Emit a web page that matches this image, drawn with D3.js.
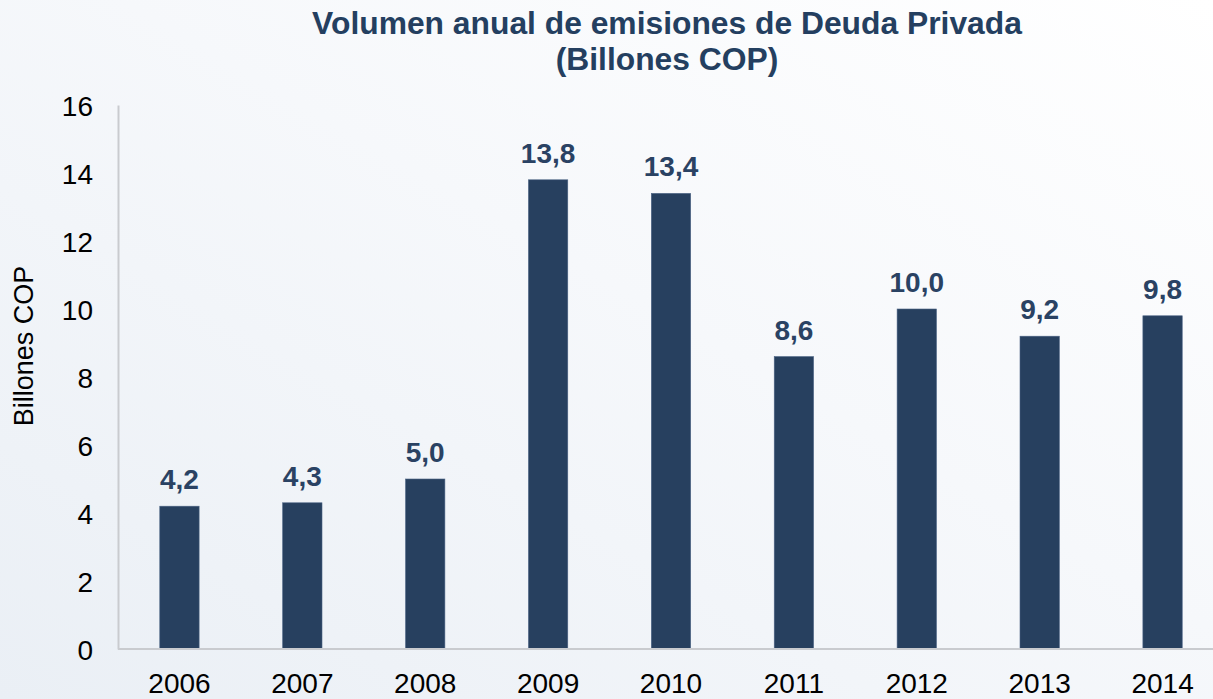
<!DOCTYPE html>
<html><head><meta charset="utf-8">
<script src="https://cdn.jsdelivr.net/npm/d3@7"></script>
<style>body{margin:0;overflow:hidden;background:#fff}svg{display:block}</style>
</head><body>
<script>
const years = ["2006","2007","2008","2009","2010","2011","2012","2013","2014"];
const values = [4.2,4.3,5.0,13.8,13.4,8.6,10.0,9.2,9.8];
const yTicks = [0,2,4,6,8,10,12,14,16];
const titleLines = ["Volumen anual de emisiones de Deuda Privada","(Billones COP)"];
const yLabel = "Billones COP";

const W=1213,H=699;
const svg=d3.select("body").append("svg").attr("width",W).attr("height",H);
const defs=svg.append("defs");
const g=defs.append("linearGradient").attr("id","bg").attr("x1","0").attr("y1","1").attr("x2","1").attr("y2","0");
g.append("stop").attr("offset","0").attr("stop-color","#eaeff5");
g.append("stop").attr("offset","0.55").attr("stop-color","#f6f8fb");
g.append("stop").attr("offset","1").attr("stop-color","#ffffff");
svg.append("rect").attr("width",W).attr("height",H).attr("fill","url(#bg)");

const x=d3.scaleBand().domain(years).range([118,1224]).paddingInner(0.68).paddingOuter(0.34);
const y=d3.scaleLinear().domain([0,16]).range([649,105]);
const font="'Liberation Sans', Arial, Helvetica, sans-serif";
const navy="#27405f";

svg.selectAll("rect.bar").data(values).enter().append("rect").attr("class","bar")
  .attr("x",(d,i)=>x(years[i])).attr("width",x.bandwidth())
  .attr("y",d=>y(d)).attr("height",d=>y(0)-y(d))
  .attr("fill",navy).attr("stroke","#4a6283").attr("stroke-width",0.6);

// axes
const yAxis=svg.append("g").attr("transform","translate(118,0)")
  .call(d3.axisLeft(y).tickValues(yTicks).tickSize(0).tickPadding(25));
yAxis.select(".domain").attr("stroke","#c9cbcf").attr("stroke-width",2);
yAxis.selectAll("text").style("font-family",font).style("font-size","28px").attr("fill","#000").attr("dy","0.36em");

svg.append("line").attr("x1",118).attr("x2",W).attr("y1",y(0)).attr("y2",y(0))
  .attr("stroke","#c9cbcf").attr("stroke-width",2);
const xAxis=svg.append("g").attr("transform",`translate(0,${y(0)})`)
  .call(d3.axisBottom(x).tickSize(0).tickPadding(24));
xAxis.select(".domain").remove();
xAxis.selectAll("text").style("font-family",font).style("font-size","28px").attr("fill","#000").attr("dy","0.71em");

// value labels
svg.selectAll("text.val").data(values).enter().append("text").attr("class","val")
  .attr("x",(d,i)=>x(years[i])+x.bandwidth()/2).attr("y",d=>y(d)-17)
  .attr("text-anchor","middle").style("font-family",font).style("font-weight","bold")
  .style("font-size","28px").attr("fill","#2a4263")
  .text(d=>d.toFixed(1).replace(".",","));

// title
svg.selectAll("text.title").data(titleLines).enter().append("text").attr("class","title")
  .attr("x",667).attr("y",(d,i)=>34+i*36).attr("text-anchor","middle")
  .style("font-family",font).style("font-weight","bold").style("font-size","31.8px").attr("fill","#243f60")
  .text(d=>d);

svg.append("text").attr("transform","translate(33,346) rotate(-90)").attr("text-anchor","middle")
  .style("font-family",font).style("font-size","27px").attr("fill","#000").text(yLabel);
</script>
</body></html>
